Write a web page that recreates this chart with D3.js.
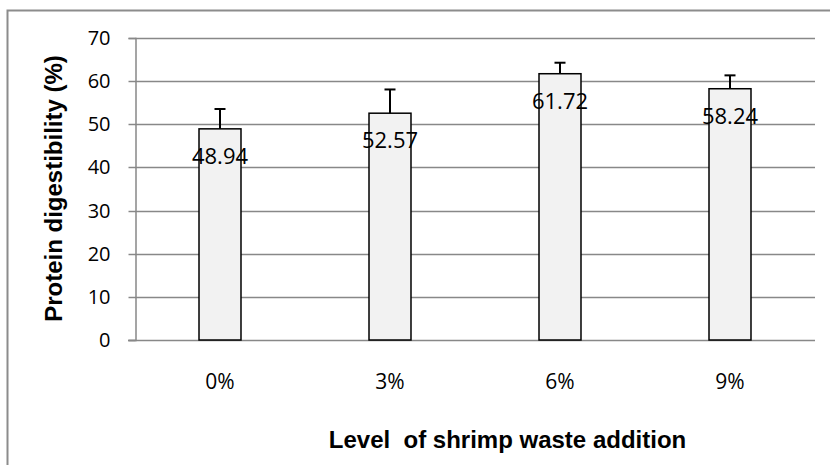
<!DOCTYPE html>
<html>
<head>
<meta charset="utf-8">
<script src="https://cdn.jsdelivr.net/npm/d3@7/dist/d3.min.js"></script>
<style>
  html, body { margin: 0; padding: 0; background: #ffffff; }
  svg { display: block; }
</style>
</head>
<body>
<svg id="chart" width="830" height="465"></svg>
<script>
// ---- data ----
const categories = ["0%", "3%", "6%", "9%"];
const values = [48.94, 52.57, 61.72, 58.24];
const errors = [4.6, 5.5, 2.55, 3.1];
const yTicks = [0, 10, 20, 30, 40, 50, 60, 70];
const yTitle = "Protein digestibility (%)";
const xTitle = "Level\u00a0\u00a0of shrimp waste addition";

// ---- layout ----
const W = 830, H = 465;
const plot = { left: 135, right: 815, top: 38, bottom: 340 };
const numFont = "'Open Sans', sans-serif";
const titleFont = "'Liberation Sans', Arial, sans-serif";

const svg = d3.select("#chart");

// outer chart border (extends past right/bottom edges)
svg.append("rect")
  .attr("x", 7.5).attr("y", 10.5)
  .attr("width", W + 20).attr("height", H + 20)
  .attr("fill", "#ffffff")
  .attr("stroke", "#8c8c8c")
  .attr("stroke-width", 2);

const x = d3.scaleBand()
  .domain(categories)
  .range([plot.left, plot.right])
  .paddingInner(0.753)
  .paddingOuter(0.3765);

const y = d3.scaleLinear()
  .domain([0, 70])
  .range([plot.bottom, plot.top]);

// gridlines
svg.append("g")
  .selectAll("line")
  .data(yTicks.filter(d => d > 0))
  .join("line")
  .attr("x1", plot.left).attr("x2", plot.right)
  .attr("y1", d => Math.round(y(d)) + 0.5)
  .attr("y2", d => Math.round(y(d)) + 0.5)
  .attr("stroke", "#888888")
  .attr("stroke-width", 1.5);

// y axis
const yAxis = d3.axisLeft(y)
  .tickValues(yTicks)
  .tickSize(7)
  .tickPadding(18)
  .tickFormat(d3.format("d"));

const gy = svg.append("g")
  .attr("transform", `translate(${plot.left + 0.5},0)`)
  .call(yAxis);
gy.select(".domain").attr("stroke", "#888888").attr("stroke-width", 1.5);
gy.selectAll(".tick line").attr("stroke", "#888888").attr("stroke-width", 1.5);
gy.selectAll(".tick text")
  .attr("font-family", numFont)
  .attr("font-size", 20)
  .attr("fill", "#000000");
gy.selectAll(".tick").attr("transform", d => `translate(0,${Math.round(y(d)) + 0.5})`);

// x axis
const xAxis = d3.axisBottom(x).tickSize(0).tickPadding(0);
const gx = svg.append("g")
  .attr("transform", `translate(0,${plot.bottom + 0.5})`)
  .call(xAxis);
gx.select(".domain")
  .attr("d", `M${plot.left - 7},0H${plot.right}`)
  .attr("stroke", "#888888").attr("stroke-width", 1.5);
gx.selectAll(".tick text")
  .attr("font-family", numFont)
  .attr("font-size", 21)
  .attr("fill", "#000000")
  .attr("dy", null)
  .attr("y", 48.5);

// bars
svg.append("g")
  .selectAll("rect")
  .data(values)
  .join("rect")
  .attr("x", (d, i) => x(categories[i]))
  .attr("y", d => y(d))
  .attr("width", x.bandwidth())
  .attr("height", d => y(0) - y(d))
  .attr("fill", "#f2f2f2")
  .attr("stroke", "#000000")
  .attr("stroke-width", 1.5);

// error bars
const eb = svg.append("g").attr("stroke", "#000000").attr("stroke-width", 2);
values.forEach((v, i) => {
  const cx = x(categories[i]) + x.bandwidth() / 2;
  eb.append("line")
    .attr("x1", cx).attr("x2", cx)
    .attr("y1", y(v)).attr("y2", y(v + errors[i]));
  eb.append("line")
    .attr("x1", cx - 5.5).attr("x2", cx + 5.5)
    .attr("y1", y(v + errors[i])).attr("y2", y(v + errors[i]));
});

// data labels
svg.append("g")
  .selectAll("text")
  .data(values)
  .join("text")
  .attr("x", (d, i) => x(categories[i]) + x.bandwidth() / 2)
  .attr("y", d => y(d) + 35)
  .attr("text-anchor", "middle")
  .attr("font-family", numFont)
  .attr("font-size", 22)
  .attr("fill", "#000000")
  .text(d => d.toFixed(2));

// axis titles
svg.append("text")
  .attr("transform", `translate(62,188.5) rotate(-90)`)
  .attr("text-anchor", "middle")
  .attr("font-family", titleFont)
  .attr("font-weight", "bold")
  .attr("font-size", 24)
  .attr("fill", "#000000")
  .text(yTitle);

svg.append("text")
  .attr("x", 507.5)
  .attr("y", 448)
  .attr("text-anchor", "middle")
  .attr("font-family", titleFont)
  .attr("font-weight", "bold")
  .attr("font-size", 24)
  .attr("fill", "#000000")
  .text(xTitle);
</script>
</body>
</html>
